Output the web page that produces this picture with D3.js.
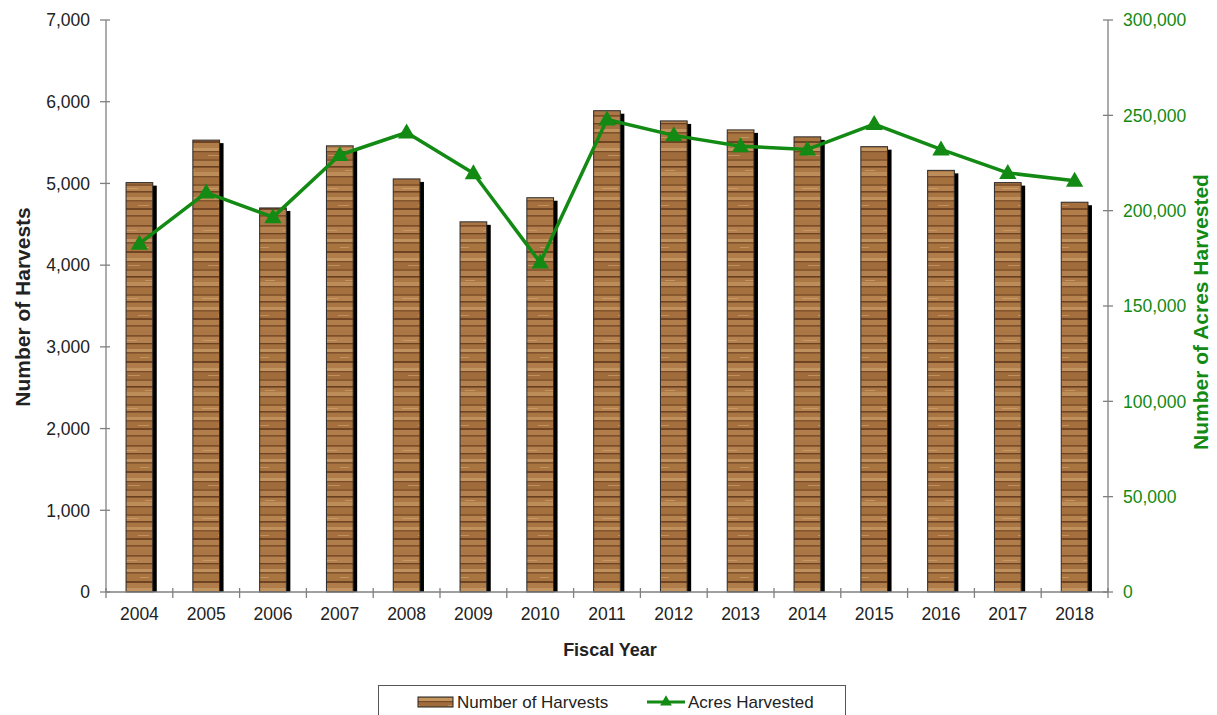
<!DOCTYPE html>
<html>
<head>
<meta charset="utf-8">
<script src="https://cdn.jsdelivr.net/npm/d3@7"></script>
<style>
  html, body { margin: 0; padding: 0; background: #fff; }
  svg { display: block; font-family: "Liberation Sans", Arial, sans-serif; }
</style>
</head>
<body>
<svg id="chart" width="1217" height="715"></svg>
<script>
const years = ["2004","2005","2006","2007","2008","2009","2010","2011","2012","2013","2014","2015","2016","2017","2018"];
const harvests = [5010, 5530, 4700, 5460, 5055, 4530, 4825, 5890, 5765, 5655, 5570, 5450, 5160, 5010, 4770];
const acres = [182700, 209500, 196600, 229200, 241000, 219600, 172800, 247800, 239500, 233800, 232100, 245400, 232100, 219800, 215700];
const leftTicks = [0, 1000, 2000, 3000, 4000, 5000, 6000, 7000];
const rightTicks = [0, 50000, 100000, 150000, 200000, 250000, 300000];

const svg = d3.select("#chart");
const L = 106, R = 1108, T = 20, B = 592;
const green = "#138a13";

const x = d3.scaleBand().domain(years).range([L, R]).paddingInner(0.6).paddingOuter(0.3);
const yL = d3.scaleLinear().domain([0, 7000]).range([B, T]);
const yR = d3.scaleLinear().domain([0, 300000]).range([B, T]);

// wood texture pattern (styling only)
const defs = svg.append("defs");
const PH = 110;
const pat = defs.append("pattern").attr("id", "wood")
  .attr("patternUnits", "userSpaceOnUse").attr("width", 40).attr("height", PH);
pat.append("rect").attr("width", 40).attr("height", PH).attr("fill", "#9d6a3c");
const stripes = [
  [0, 5, "#aa7646"], [5, 1.5, "#7d4e2a"], [7, 6, "#b5814f"], [13, 1.2, "#6e4322"],
  [15, 4, "#a4703f"], [19, 3, "#bf915d"], [22, 1.5, "#80512b"], [24, 7, "#a8743f"],
  [31, 2, "#6f4424"], [33, 5, "#b07c49"], [38, 3, "#c29460"], [41, 1.2, "#7a4a27"],
  [43, 6, "#a06c3b"], [49, 2, "#8a5a31"], [51, 5, "#b38050"], [56, 1.5, "#6a3f20"],
  [58, 4, "#ab7745"], [62, 4, "#bd8d59"], [66, 1.2, "#7c4d29"], [68, 6, "#a3703e"],
  [74, 2, "#88582f"], [76, 5, "#b6834f"], [81, 1.5, "#704525"], [83, 4, "#a97543"],
  [87, 3, "#c0915c"], [90, 1.5, "#85552e"], [92, 6, "#a66f3e"], [98, 2, "#734726"],
  [100, 5, "#b17d4a"], [105, 1.5, "#7f502b"], [107, 3, "#ab7846"]
];
stripes.forEach(s => pat.append("rect").attr("x", 0).attr("y", s[0]).attr("width", 40).attr("height", s[1]).attr("fill", s[2]));
// faint streaks
const streaks = [[3, 10, 14], [20, 27, 9], [8, 45, 12], [25, 60, 10], [2, 78, 16], [18, 95, 11]];
streaks.forEach(s => pat.append("rect").attr("x", s[0]).attr("y", s[1]).attr("width", s[2]).attr("height", 1).attr("fill", "#d3a774").attr("opacity", 0.6));

// bars
const bw = x.bandwidth();
const bars = svg.append("g");
bars.selectAll("rect.sh").data(years).join("rect").attr("class", "sh")
  .attr("x", d => x(d) + 4).attr("y", (d, i) => yL(harvests[i]) + 3)
  .attr("width", bw).attr("height", (d, i) => B - yL(harvests[i]) - 3)
  .attr("fill", "#000");
bars.selectAll("rect.bar").data(years).join("rect").attr("class", "bar")
  .attr("x", d => x(d)).attr("y", (d, i) => yL(harvests[i]))
  .attr("width", bw).attr("height", (d, i) => B - yL(harvests[i]))
  .attr("fill", "url(#wood)").attr("stroke", "#2a2a2a").attr("stroke-width", 1);

// axes
const axisColor = "#808080";
const gL = svg.append("g");
gL.append("line").attr("x1", L).attr("x2", L).attr("y1", T).attr("y2", B).attr("stroke", axisColor).attr("stroke-width", 1.3);
gL.selectAll("line.t").data(leftTicks).join("line").attr("class", "t")
  .attr("x1", L - 6).attr("x2", L + 4).attr("y1", d => yL(d)).attr("y2", d => yL(d))
  .attr("stroke", axisColor).attr("stroke-width", 1.3);
gL.selectAll("text").data(leftTicks).join("text")
  .attr("x", 90).attr("y", d => yL(d)).attr("dy", "0.36em").attr("text-anchor", "end")
  .attr("font-size", 17.5).attr("fill", "#222").text(d => d3.format(",")(d));

const gR = svg.append("g");
gR.append("line").attr("x1", R).attr("x2", R).attr("y1", T).attr("y2", B).attr("stroke", axisColor).attr("stroke-width", 1.3);
gR.selectAll("line.t").data(rightTicks).join("line").attr("class", "t")
  .attr("x1", R - 5).attr("x2", R + 5).attr("y1", d => yR(d)).attr("y2", d => yR(d))
  .attr("stroke", axisColor).attr("stroke-width", 1.3);
gR.selectAll("text").data(rightTicks).join("text")
  .attr("x", 1123).attr("y", d => yR(d)).attr("dy", "0.36em").attr("text-anchor", "start")
  .attr("font-size", 17.5).attr("fill", green).text(d => d3.format(",")(d));

const gX = svg.append("g");
gX.append("line").attr("x1", L).attr("x2", R).attr("y1", B).attr("y2", B).attr("stroke", axisColor).attr("stroke-width", 1.3);
const step = (R - L) / years.length;
gX.selectAll("line.t").data(d3.range(years.length + 1)).join("line").attr("class", "t")
  .attr("x1", i => L + i * step).attr("x2", i => L + i * step).attr("y1", B - 4).attr("y2", B + 6)
  .attr("stroke", axisColor).attr("stroke-width", 1.3);
gX.selectAll("text").data(years).join("text")
  .attr("x", d => x(d) + bw / 2).attr("y", 620).attr("text-anchor", "middle")
  .attr("font-size", 17.5).attr("fill", "#222").text(d => d);

// axis titles
svg.append("text").attr("transform", "translate(30,307) rotate(-90)")
  .attr("text-anchor", "middle").attr("font-size", 21).attr("font-weight", "bold").attr("fill", "#222")
  .text("Number of Harvests");
svg.append("text").attr("transform", "translate(1208,312) rotate(-90)")
  .attr("text-anchor", "middle").attr("font-size", 21).attr("font-weight", "bold").attr("fill", green)
  .text("Number of Acres Harvested");
svg.append("text").attr("x", 610).attr("y", 656).attr("text-anchor", "middle")
  .attr("font-size", 18).attr("font-weight", "bold").attr("fill", "#222").text("Fiscal Year");

// line
const cx = d => x(d) + bw / 2;
const line = d3.line().x((d, i) => cx(years[i])).y(d => yR(d));
svg.append("path").datum(acres).attr("d", line).attr("fill", "none")
  .attr("stroke", green).attr("stroke-width", 3.5).attr("stroke-linejoin", "round");
const tri = d3.symbol().type(d3.symbolTriangle).size(130);
svg.selectAll("path.m").data(acres).join("path").attr("class", "m")
  .attr("d", tri).attr("transform", (d, i) => `translate(${cx(years[i])},${yR(d) + 1})`)
  .attr("fill", green);

// legend
const lg = svg.append("g");
lg.append("rect").attr("x", 378.5).attr("y", 685.5).attr("width", 467).attr("height", 40)
  .attr("fill", "#fff").attr("stroke", "#555").attr("stroke-width", 1);
lg.append("rect").attr("x", 418).attr("y", 697).attr("width", 35).attr("height", 10)
  .attr("fill", "url(#wood)").attr("stroke", "#222").attr("stroke-width", 1);
lg.append("text").attr("x", 457).attr("y", 708).attr("font-size", 17).attr("fill", "#222").text("Number of Harvests");
lg.append("line").attr("x1", 647).attr("x2", 685).attr("y1", 702).attr("y2", 702).attr("stroke", green).attr("stroke-width", 3);
lg.append("path").attr("d", d3.symbol().type(d3.symbolTriangle).size(60)).attr("transform", "translate(666,702)").attr("fill", green);
lg.append("text").attr("x", 688).attr("y", 708).attr("font-size", 17).attr("fill", "#222").text("Acres Harvested");
</script>
</body>
</html>
